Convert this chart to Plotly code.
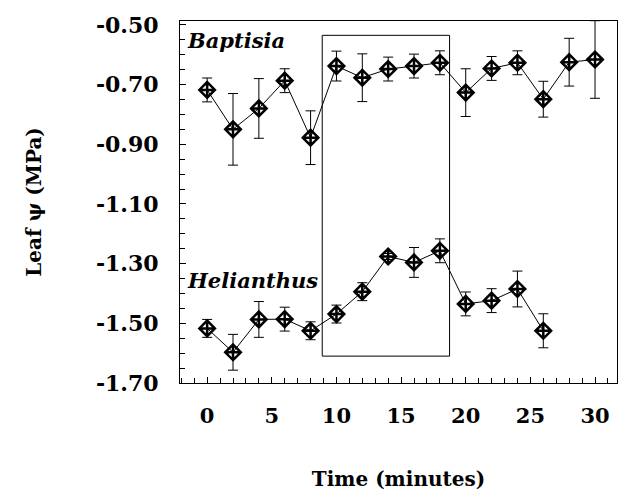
import plotly.graph_objects as go

time_min = [0, 2, 4, 6, 8, 10, 12, 14, 16, 18, 20, 22, 24, 26, 28, 30]
baptisia_psi = [-0.718, -0.850, -0.780, -0.687, -0.878, -0.638, -0.677, -0.648,
                -0.638, -0.627, -0.727, -0.646, -0.627, -0.749, -0.625, -0.616]
baptisia_err = [0.04, 0.12, 0.10, 0.04, 0.09, 0.05, 0.08, 0.04,
                0.04, 0.04, 0.08, 0.04, 0.04, 0.06, 0.08, 0.13]

helianthus_time = [0, 2, 4, 6, 8, 10, 12, 14, 16, 18, 20, 22, 24, 26]
helianthus_psi = [-1.517, -1.597, -1.487, -1.486, -1.525, -1.469, -1.394, -1.276,
                  -1.296, -1.257, -1.435, -1.424, -1.385, -1.525]
helianthus_err = [0.03, 0.06, 0.06, 0.04, 0.03, 0.03, 0.03, 0.01,
                  0.05, 0.04, 0.04, 0.04, 0.06, 0.057]

# highlighted interval (rectangle)
box_time = [8.9, 18.75]
box_psi = [-1.61, -0.535]

y_ticks = [-0.50, -0.70, -0.90, -1.10, -1.30, -1.50, -1.70]
x_ticks = [0, 5, 10, 15, 20, 25, 30]

FONT = "DejaVu Serif"

fig = go.Figure()


def add_series(x, y, err):
    fig.add_trace(go.Scatter(
        x=x, y=y, mode="lines+markers",
        line=dict(color="black", width=1),
        marker=dict(symbol="diamond-cross-open", size=12, color="black",
                    line=dict(color="black", width=2.5)),
        error_y=dict(type="data", array=err, visible=True, color="black",
                     thickness=1, width=5),
        showlegend=False,
    ))


add_series(time_min, baptisia_psi, baptisia_err)
add_series(helianthus_time, helianthus_psi, helianthus_err)

fig.add_shape(type="rect", xref="x", yref="y",
              x0=box_time[0], x1=box_time[1], y0=box_psi[0], y1=box_psi[1],
              line=dict(color="black", width=1), fillcolor="rgba(0,0,0,0)")

fig.add_annotation(text="<b><i>Baptisia</i></b>", xref="paper", yref="y",
                   x=0.012, y=-0.553, xanchor="left", yanchor="middle",
                   showarrow=False, font=dict(family=FONT, size=21, color="black"))
fig.add_annotation(text="<b><i>Helianthus</i></b>", xref="paper", yref="y",
                   x=0.012, y=-1.355, xanchor="left", yanchor="middle",
                   showarrow=False, font=dict(family=FONT, size=21, color="black"))

fig.update_layout(
    width=618, height=491,
    margin=dict(l=180, r=1, t=21, b=108),
    paper_bgcolor="white", plot_bgcolor="white",
    font=dict(family=FONT, color="black"),
)

fig.update_xaxes(
    range=[-2.1, 31.7], tickvals=x_ticks, ticktext=["<b>%d</b>" % v for v in x_ticks],
    ticks="inside", ticklen=6, tickcolor="black", tickwidth=1,
    minor=dict(dtick=1, ticks="inside", ticklen=5, tickcolor="black"),
    showline=True, linecolor="black", linewidth=1, mirror=True,
    showgrid=False, zeroline=False,
    tickfont=dict(family=FONT, size=21, color="black"),
    ticklabelstandoff=14,
    title=dict(text="<b>Time (minutes)</b>", standoff=45,
               font=dict(family=FONT, size=20, color="black")),
)
fig.update_yaxes(
    range=[-1.70, -0.487], tickvals=y_ticks, ticktext=["<b>%.2f</b>" % v for v in y_ticks],
    ticks="inside", ticklen=6, tickcolor="black", tickwidth=1,
    minor=dict(dtick=0.05, tick0=-0.5, ticks="inside", ticklen=5, tickcolor="black"),
    showline=True, linecolor="black", linewidth=1, mirror=True,
    showgrid=False, zeroline=False,
    tickfont=dict(family=FONT, size=22, color="black"),
    ticklabelstandoff=16,
    title=dict(text="<b>Leaf ψ (MPa)</b>", standoff=48,
               font=dict(family=FONT, size=20, color="black")),
)

fig.write_html("out.html")
